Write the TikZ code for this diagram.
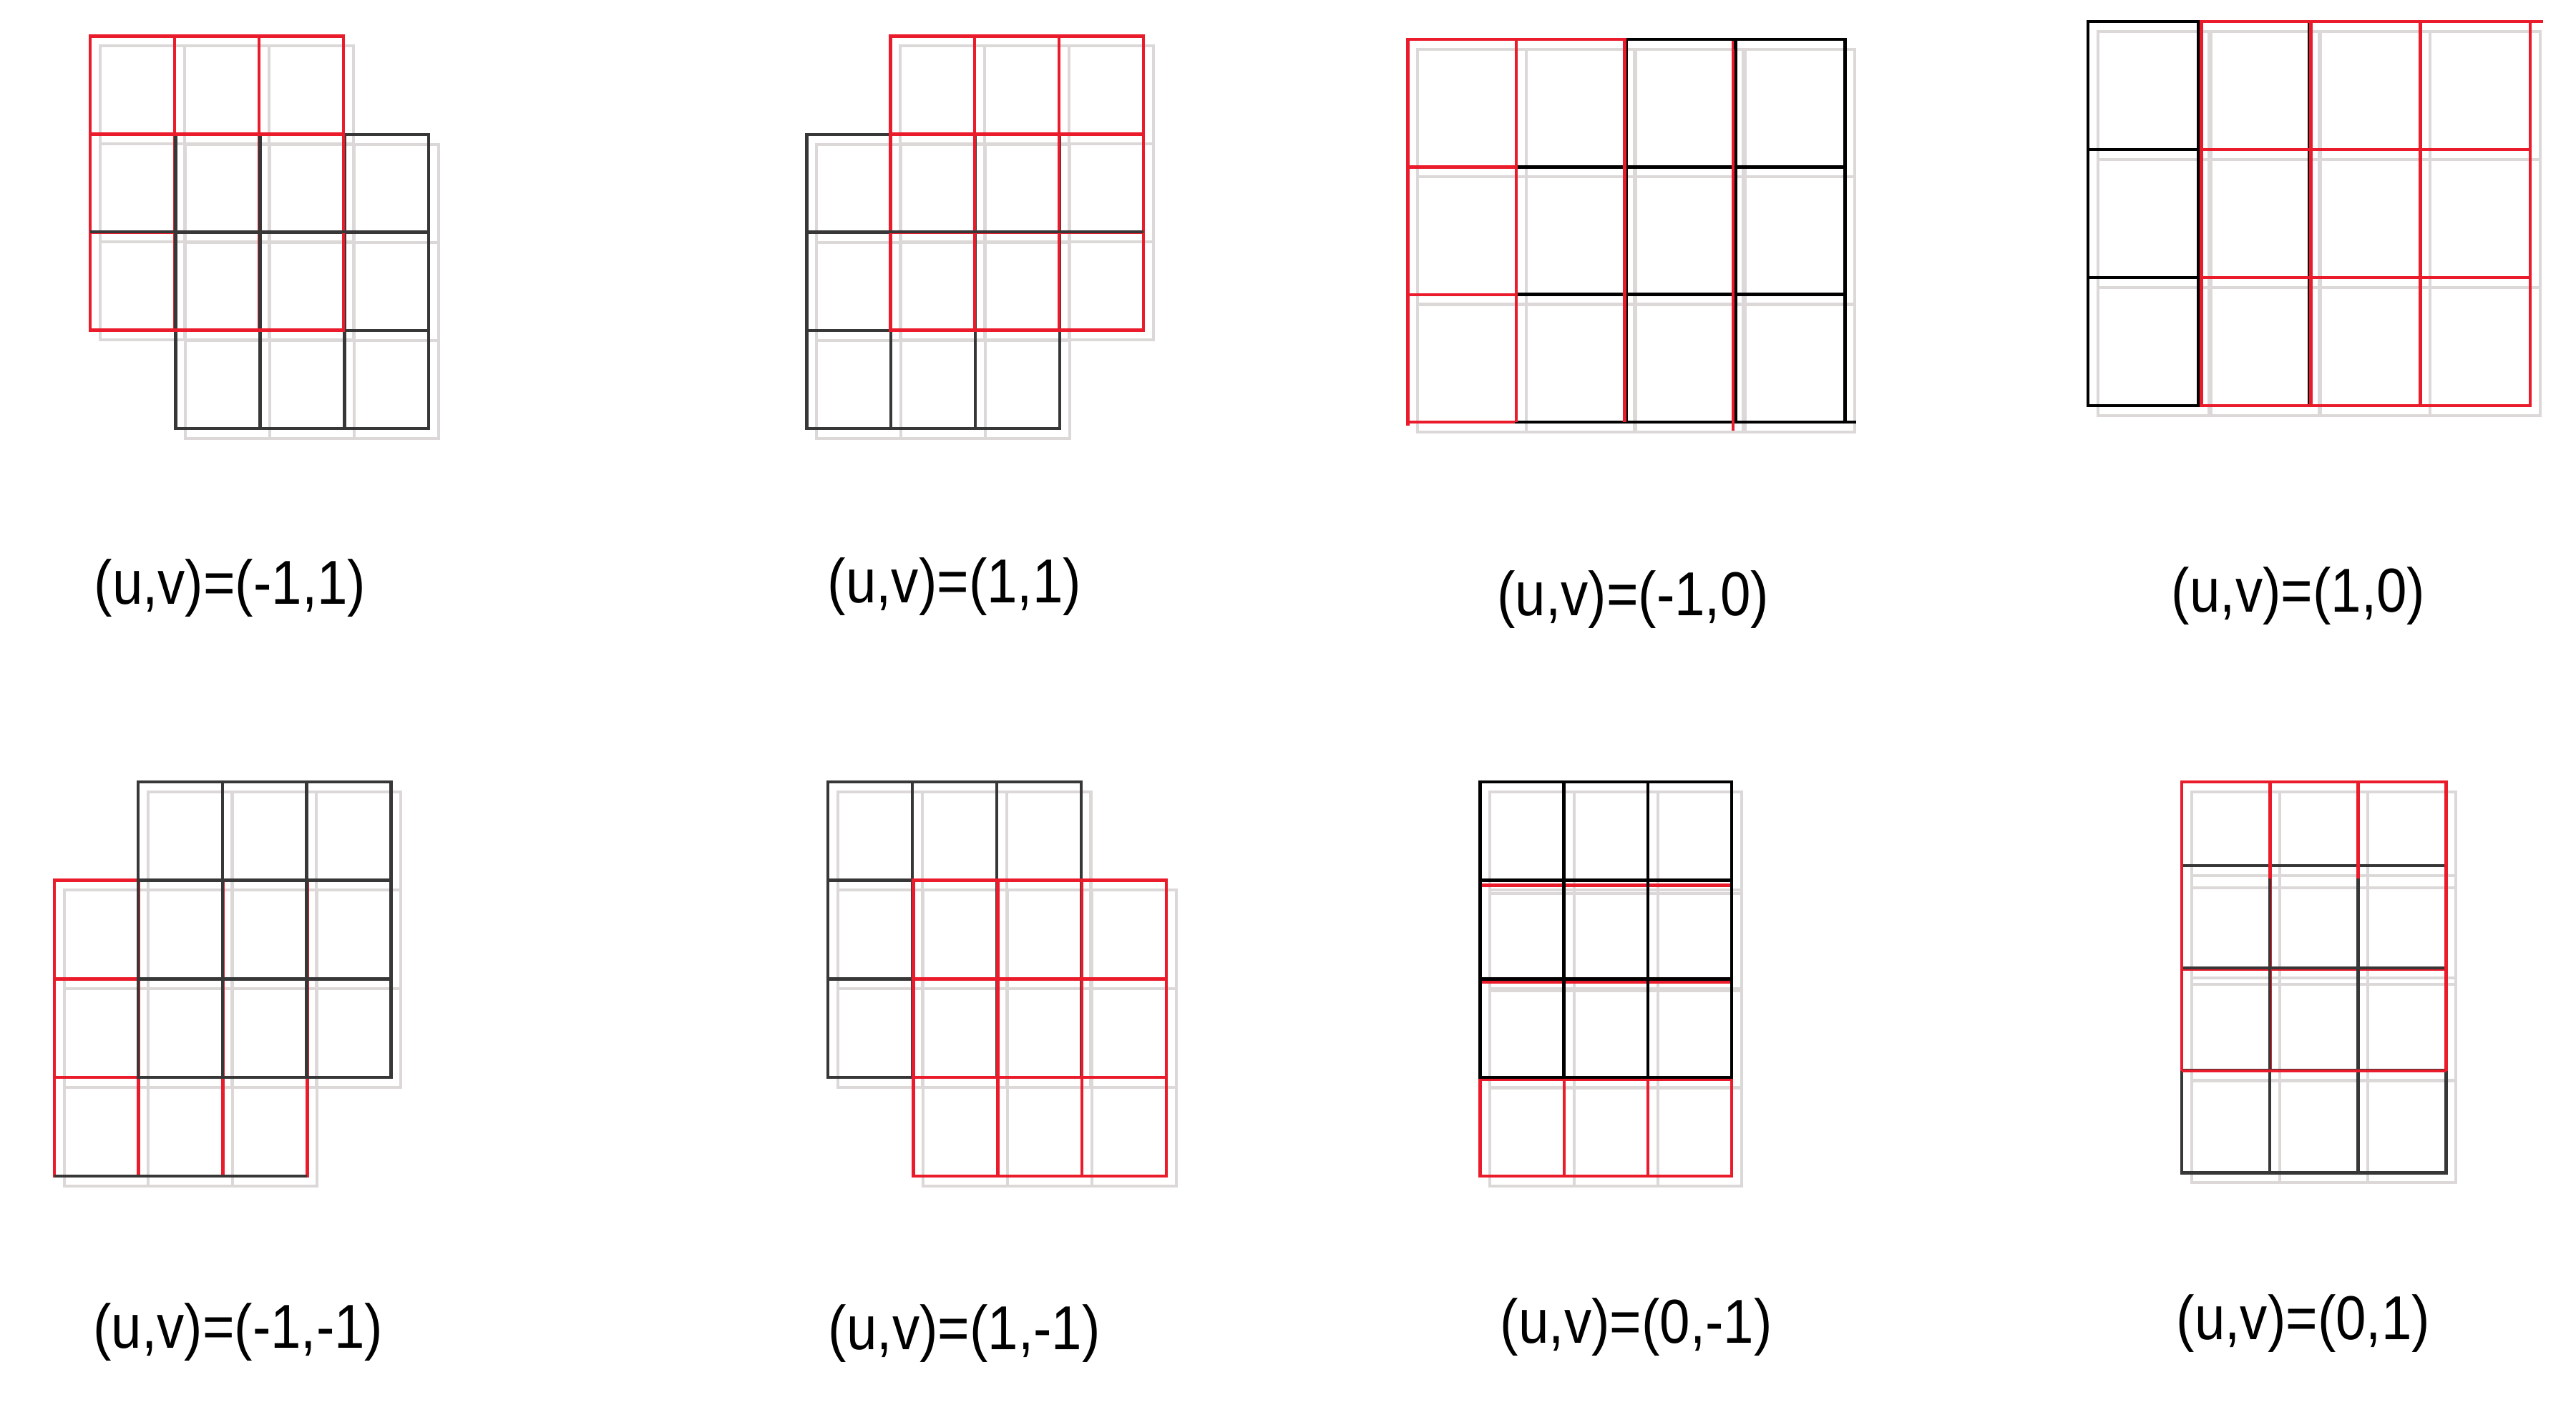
\documentclass[tikz,border=0pt]{standalone}
\usepackage{fontspec}
\setmainfont{Liberation Sans}
\definecolor{gred}{RGB}{234,28,44}
\definecolor{gblk}{RGB}{55,55,55}
\definecolor{gshd}{RGB}{220,216,216}
\newcommand\gridbox[5]{%
  \pgfmathsetmacro\gxa{#2+(#3-#2)/3}\pgfmathsetmacro\gxb{#2+2*(#3-#2)/3}%
  \pgfmathsetmacro\gya{#4+(#5-#4)/3}\pgfmathsetmacro\gyb{#4+2*(#5-#4)/3}%
  \draw[#1] (#2,#4) rectangle (#3,#5) (\gxa,#4) -- (\gxa,#5) (\gxb,#4) -- (\gxb,#5)
    (#2,\gya) -- (#3,\gya) (#2,\gyb) -- (#3,\gyb);}
\tikzset{
  redg/.style={draw=gred,line width=1.1pt},
  blkg/.style={draw=gblk,line width=1.1pt},
  blkd/.style={draw=black,line width=1.15pt},
  shad/.style={draw=gshd,line width=1pt,shift={(6,6)}},
  lbl/.style={inner sep=0pt,font=\fontsize{21.5}{26}\selectfont}
}
\newcommand\lab[1]{\scalebox{0.88}[1]{#1}}
\begin{document}
\begin{tikzpicture}[x=0.02cm,y=-0.02cm]
\useasboundingbox[fill=white] (0,0) rectangle (1568,855);
% ---------- shadows ----------
\gridbox{shad}{55}{209}{22}{201}
\gridbox{shad}{107}{261}{82}{261}
\gridbox{shad}{542}{696}{22}{201}
\gridbox{shad}{491}{645}{82}{261}
\gridbox{shad}{857}{1055}{24}{257}
\gridbox{shad}{923}{1123}{24}{257}
\gridbox{shad}{1271}{1473}{13}{247}
\gridbox{shad}{1340}{1540}{13}{247}
\gridbox{shad}{84}{238}{476}{656}
\gridbox{shad}{33}{187}{536}{716}
\gridbox{shad}{504}{658}{476}{656}
\gridbox{shad}{556}{710}{536}{716}
\gridbox{shad}{901}{1054}{476}{656}
\gridbox{shad}{901}{1054}{538}{716}
\gridbox{shad}{1328}{1489}{476}{652}
\gridbox{shad}{1328}{1489}{527}{714}
% ---------- panel 1: (-1,1) ----------
\gridbox{redg}{55}{209}{22}{201}
\gridbox{blkg}{107}{261}{82}{261}
\draw[redg] (55,22) rectangle (209,201) (55,82) -- (209,82);
\draw[blkg] (55,141) -- (261,141);
% ---------- panel 2: (1,1) ----------
\gridbox{blkg}{491}{645}{82}{261}
\gridbox{redg}{542}{696}{22}{201}
\draw[blkg] (491,141) -- (696,141);
% ---------- panel 3: (-1,0) ----------
\gridbox{redg}{857}{1055}{24}{257}
\gridbox{blkd}{923}{1123}{24}{257}
\draw[blkd] (923,257) -- (1130,257);
\draw[redg] (857,24) -- (857,259) (923,24) -- (923,257) (989,24) -- (989,257) (1055,30) -- (1055,262)
  (857,24) -- (990,24);
% ---------- panel 4: (1,0) ----------
\gridbox{blkd}{1271}{1473}{13}{247}
\gridbox{redg}{1340}{1540}{13}{247}
\draw[redg] (1340,13) -- (1548,13);
% ---------- panel 5: (-1,-1) ----------
\gridbox{redg}{33}{187}{536}{716}
\gridbox{blkg}{84}{238}{476}{656}
\draw[blkg] (33,716) -- (187,716);
% ---------- panel 6: (1,-1) ----------
\gridbox{blkg}{504}{658}{476}{656}
\gridbox{redg}{556}{710}{536}{716}
% ---------- panel 7: (0,-1) ----------
\gridbox{redg}{901}{1054}{539}{716}
\gridbox{blkd}{901}{1054}{476}{656}
% ---------- panel 8: (0,1) ----------
\draw[redg] (1328,476) rectangle (1489,652)
  (1381.7,476) -- (1381.7,652) (1435.3,476) -- (1435.3,652)
  (1328,527) -- (1489,527) (1328,590) -- (1489,590);
\gridbox{blkg}{1328}{1489}{527}{714}
\draw[redg] (1328,476) -- (1328,652) (1489,476) -- (1489,652) (1328,476) -- (1489,476)
  (1328,652) -- (1489,652) (1381.7,476) -- (1381.7,535) (1435.3,476) -- (1435.3,535);
% ---------- labels ----------
\node[lbl] (l1) at (140,358) {\lab{(u,v)=(-1,1)}};
\node[lbl] (l2) at (581,357) {\lab{(u,v)=(1,1)}};
\node[lbl] (l3) at (994,365) {\lab{(u,v)=(-1,0)}};
\node[lbl] (l4) at (1399,363) {\lab{(u,v)=(1,0)}};
\node[lbl] (l5) at (145,811) {\lab{(u,v)=(-1,-1)}};
\node[lbl] (l6) at (587,812) {\lab{(u,v)=(1,-1)}};
\node[lbl] (l7) at (996,808) {\lab{(u,v)=(0,-1)}};
\node[lbl] (l8) at (1402,806) {\lab{(u,v)=(0,1)}};
\end{tikzpicture}
\end{document}
